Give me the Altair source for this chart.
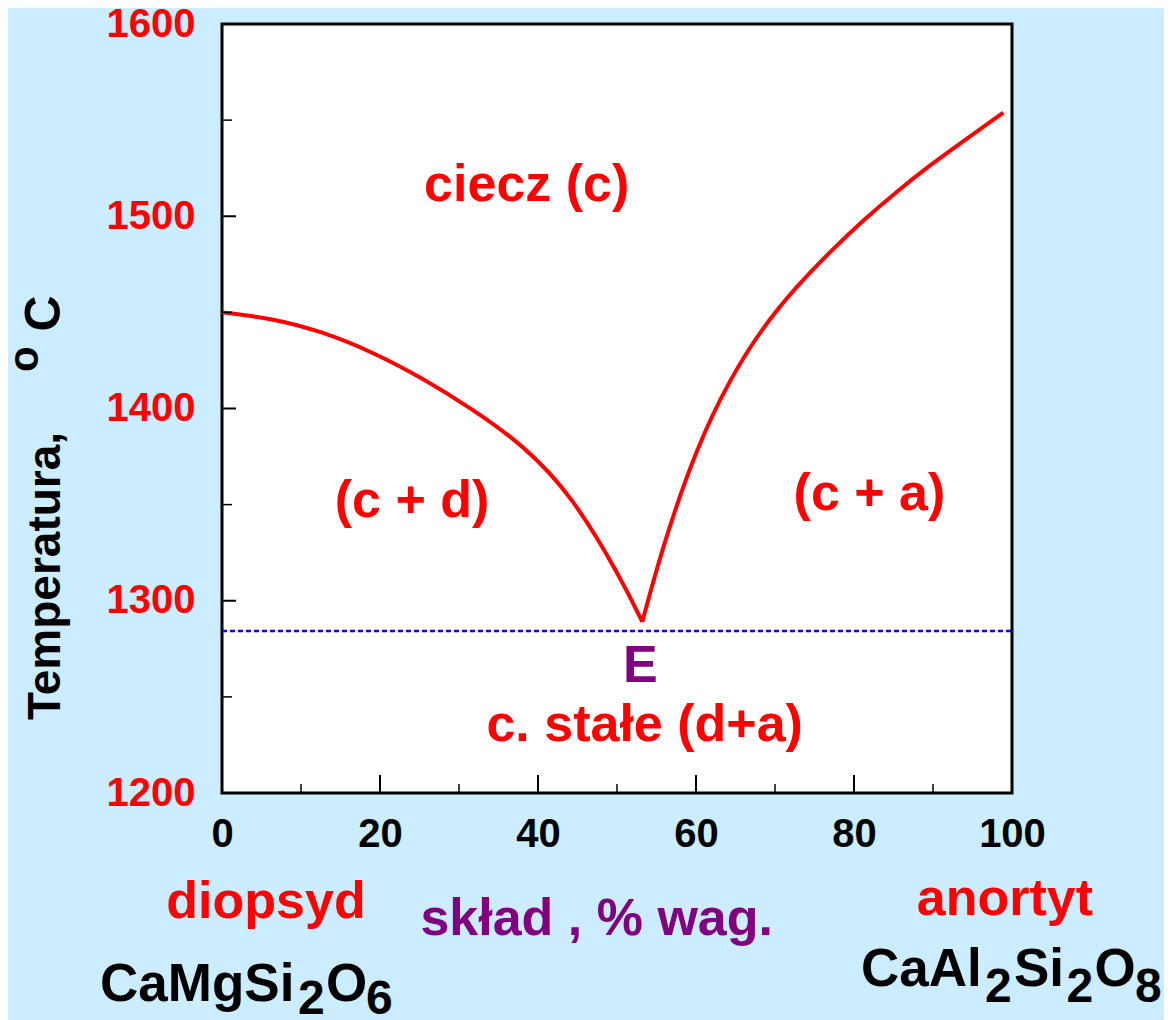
import altair as alt
import pandas as pd

# ---- data (composition in wt% anorthite, temperature in deg C) ----
left_x = [0, 6.3, 12.7, 19.0, 25.3, 31.6, 38.0, 44.3, 50.6, 53.2]
left_t = [1450, 1447.0, 1440.0, 1429.5, 1416.0, 1400.0, 1381.5, 1355.0, 1311.0, 1289.0]
right_x = [53.2, 55.9, 60.1, 64.3, 68.5, 72.7, 77.0, 81.2, 85.4, 89.6, 93.8, 98.9]
right_t = [1289.0, 1330.0, 1380.0, 1415.5, 1442.6, 1463.4, 1481.7, 1498.0, 1512.8, 1526.5, 1538.9, 1553.9]
eutectic_t = 1284.3
x_major = [20, 40, 60, 80]
x_minor = [10, 30, 50, 70, 90]
y_major = [1300, 1400, 1500]
y_minor = [1250, 1350, 1450, 1550]
x_labels = [0, 20, 40, 60, 80, 100]
y_labels = [1200, 1300, 1400, 1500, 1600]

FONT = "Liberation Sans"
BG = "#CCECFF"

xs = alt.Scale(domain=[0, 100], nice=False, zero=False)
ys = alt.Scale(domain=[1200, 1600], nice=False, zero=False)
xax = alt.Axis(values=x_labels, format="d", title=None, grid=False, ticks=False, domain=False,
               labelFont=FONT, labelFontSize=40, labelFontWeight="bold", labelColor="black",
               labelPadding=21, labelFlush=False)
yax = alt.Axis(values=y_labels, format="d", title=None, grid=False, ticks=False, domain=False,
               labelFont=FONT, labelFontSize=40, labelFontWeight="bold", labelColor="#FF0000",
               labelPadding=27, labelFlush=False)


def X(f):
    return alt.X(f, scale=xs, axis=xax)


def Y(f):
    return alt.Y(f, scale=ys, axis=yax)


curve = pd.DataFrame(
    [{"x": a, "t": b, "branch": "d", "o": i} for i, (a, b) in enumerate(zip(left_x, left_t))]
    + [{"x": a, "t": b, "branch": "a", "o": i} for i, (a, b) in enumerate(zip(right_x, right_t))]
)

line = alt.Chart(curve).mark_line(color="#FF0000", strokeWidth=4, interpolate="basis").encode(
    x=X("x:Q"), y=Y("t:Q"), detail="branch:N", order="o:Q")

eut = alt.Chart(pd.DataFrame({"x0": [0], "x1": [100], "t": [eutectic_t]})).mark_rule(
    color="#0000FF", strokeWidth=2.5, strokeDash=[5, 3]).encode(
    x=X("x0:Q"), x2="x1:Q", y=Y("t:Q"))

# inward ticks
xtick_major = alt.Chart(pd.DataFrame({"x": x_major})).mark_rule(color="black", strokeWidth=2).encode(
    x=X("x:Q"), y=alt.value(769), y2=alt.value(751))
xtick_minor = alt.Chart(pd.DataFrame({"x": x_minor})).mark_rule(color="black", strokeWidth=1.5).encode(
    x=X("x:Q"), y=alt.value(769), y2=alt.value(760))
ytick_major = alt.Chart(pd.DataFrame({"t": y_major})).mark_rule(color="black", strokeWidth=2).encode(
    y=Y("t:Q"), x=alt.value(0), x2=alt.value(14))
ytick_minor = alt.Chart(pd.DataFrame({"t": y_minor})).mark_rule(color="black", strokeWidth=1.5).encode(
    y=Y("t:Q"), x=alt.value(0), x2=alt.value(10))

# region labels and annotations
big_labels = pd.DataFrame({
    "text": ["ciecz (c)", "(c + d)", "(c + a)", "E", "c. stałe (d+a)", "diopsyd", "skład , % wag.", "anortyt"],
    "x": [38.57, 24.05, 81.96, 52.97, 53.5, 5.57, 47.43, 99.11],
    "t": [1508.1, 1343.7, 1347.2, 1257.9, 1227.0, 1134.8, 1126.1, 1136.5],
    "color": ["#FF0000", "#FF0000", "#FF0000", "#800080", "#FF0000", "#FF0000", "#800080", "#FF0000"],
})
big = alt.Chart(big_labels).mark_text(font=FONT, fontSize=52, fontWeight="bold",
                                       align="center", baseline="alphabetic").encode(
    x=X("x:Q"), y=Y("t:Q"), text="text:N", color=alt.Color("color:N", scale=None))

formula_main = pd.DataFrame({
    "text": ["CaMgSi", "O", "CaAl", "Si", "O"],
    "x": [-15.44, 13.16, 80.89, 100.25, 110.44],
    "t": [1092.0, 1092.0, 1099.5, 1099.5, 1099.5],
})
formula_sub = pd.DataFrame({
    "text": ["2", "6", "2", "2", "8"],
    "x": [9.62, 18.23, 96.58, 106.9, 115.57],
    "t": [1085.0, 1085.0, 1091.5, 1091.5, 1091.5],
})
fmain = alt.Chart(formula_main).mark_text(font=FONT, fontSize=53, fontWeight="bold", color="black",
                                          align="left", baseline="alphabetic").encode(
    x=X("x:Q"), y=Y("t:Q"), text="text:N")
fsub = alt.Chart(formula_sub).mark_text(font=FONT, fontSize=48, fontWeight="bold", color="black",
                                        align="left", baseline="alphabetic").encode(
    x=X("x:Q"), y=Y("t:Q"), text="text:N")

# rotated y-axis title "Temperatura,  oC"
ytitle_main = pd.DataFrame({"text": ["Temperatura,"], "x": [-20.5], "t": [1238.0]})
ytitle_c = pd.DataFrame({"text": ["C"], "x": [-20.5], "t": [1440.0]})
ytitle_sup = pd.DataFrame({"text": ["o"], "x": [-23.3], "t": [1419.0]})
ytm = alt.Chart(ytitle_main).mark_text(font=FONT, fontSize=46, fontWeight="bold", color="black",
                                       align="left", baseline="alphabetic", angle=270).encode(
    x=X("x:Q"), y=Y("t:Q"), text="text:N")
ytc = alt.Chart(ytitle_c).mark_text(font=FONT, fontSize=50, fontWeight="bold", color="black",
                                    align="left", baseline="alphabetic", angle=270).encode(
    x=X("x:Q"), y=Y("t:Q"), text="text:N")
yts = alt.Chart(ytitle_sup).mark_text(font=FONT, fontSize=42, fontWeight="bold", color="black",
                                      align="left", baseline="alphabetic", angle=270).encode(
    x=X("x:Q"), y=Y("t:Q"), text="text:N")

chart = alt.layer(
    line, eut, xtick_major, xtick_minor, ytick_major, ytick_minor, big, fmain, fsub, ytm, ytc, yts
).properties(
    width=790, height=769,
    autosize=alt.AutoSizeParams(type="none"),
    padding={"left": 214, "top": 16, "right": 152, "bottom": 227},
    background=BG,
).configure_view(
    fill="white", stroke="black", strokeWidth=3
)

chart.save("out.html", embed_options={"renderer": "svg", "actions": False})
